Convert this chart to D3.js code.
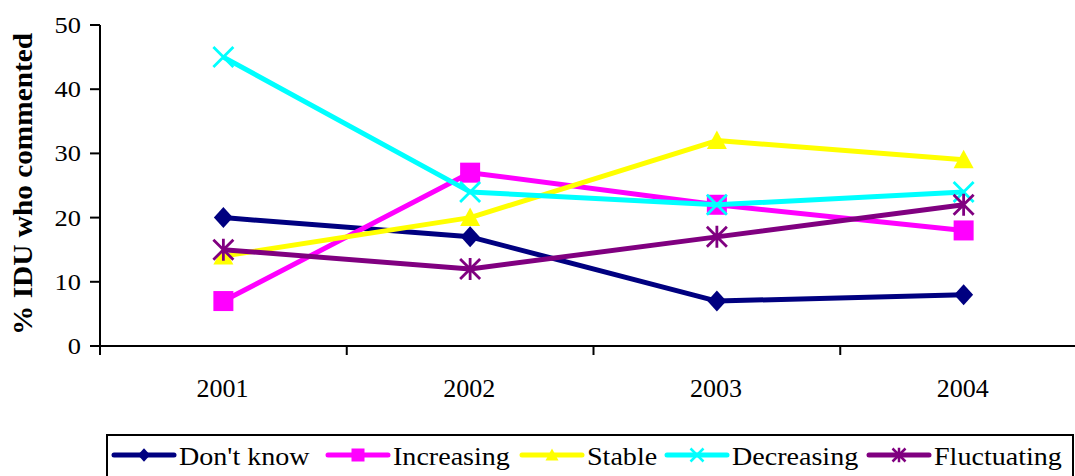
<!DOCTYPE html>
<html><head><meta charset="utf-8">
<script src="https://cdn.jsdelivr.net/npm/d3@7"></script>
<style>body{margin:0;background:#fff}svg{display:block}</style>
</head><body>
<svg id="c" width="1075" height="476"></svg>
<script>
const categories = ["2001","2002","2003","2004"];
const seriesNames = ["Don't know","Increasing","Stable","Decreasing","Fluctuating"];
const dontKnow   = [20, 17, 7, 8];
const increasing = [7, 27, 22, 18];
const stable     = [14, 20, 32, 29];
const decreasing = [45, 24, 22, 24];
const fluctuating= [15, 12, 17, 22];
const yTicks = [0,10,20,30,40,50];
const yTitle = "% IDU who commented";

const FONT = "'Liberation Serif', 'Times New Roman', serif";
const colors = ["#000080","#FF00FF","#FFFF00","#00FFFF","#800080"];
const markers = ["diamond","square","triangle","x","star"];
const values = [dontKnow, increasing, stable, decreasing, fluctuating];

const svg = d3.select("#c");
const x = d3.scaleBand().domain(categories).range([100, 1087]).padding(0);
const y = d3.scaleLinear().domain([0, 50]).range([346, 25]);

// axes
const ax = svg.append("g").attr("stroke","#000").attr("stroke-width",2);
ax.append("line").attr("x1",100).attr("x2",100).attr("y1",y(50)).attr("y2",y(0));
ax.append("line").attr("x1",90).attr("x2",1075).attr("y1",y(0)).attr("y2",y(0));
yTicks.forEach(t=>{
  ax.append("line").attr("x1",90).attr("x2",100).attr("y1",y(t)).attr("y2",y(t));
});
categories.concat(["_end"]).forEach((c,i)=>{
  const xx = i<categories.length ? x(c) : x.range()[1];
  ax.append("line").attr("x1",xx).attr("x2",xx).attr("y1",y(0)).attr("y2",y(0)+9);
});
yTicks.forEach(t=>{
  svg.append("text").attr("transform",`translate(81,${y(t)+8}) scale(1.15,1)`)
    .attr("font-family",FONT).attr("text-anchor","end").attr("font-size",23).text(t);
});
categories.forEach(c=>{
  svg.append("text").attr("transform",`translate(${x(c)+x.bandwidth()/2-1},397)`)
    .attr("font-family",FONT).attr("text-anchor","middle").attr("font-size",26).text(c);
});
svg.append("text").attr("transform","translate(32,184) rotate(-90)")
  .attr("font-family",FONT).attr("text-anchor","middle").attr("font-size",28).attr("font-weight","bold")
  .attr("textLength",302).attr("lengthAdjust","spacingAndGlyphs").text(yTitle);

function drawMarker(g, type, cx, cy, s, color, sw){
  const h = s/2;
  if(type==="diamond"){
    g.append("path").attr("d",`M${cx},${cy-h*1.05}L${cx+h*0.95},${cy}L${cx},${cy+h*1.05}L${cx-h*0.95},${cy}Z`).attr("fill",color);
  } else if(type==="square"){
    g.append("rect").attr("x",cx-h).attr("y",cy-h).attr("width",s).attr("height",s).attr("fill",color);
  } else if(type==="triangle"){
    g.append("path").attr("d",`M${cx},${cy-h}L${cx+h},${cy+h*0.85}L${cx-h},${cy+h*0.85}Z`).attr("fill",color);
  } else if(type==="x"){
    g.append("path").attr("d",`M${cx-h},${cy-h}L${cx+h},${cy+h}M${cx-h},${cy+h}L${cx+h},${cy-h}`)
      .attr("stroke",color).attr("stroke-width",sw).attr("fill","none");
  } else if(type==="star"){
    g.append("path").attr("d",`M${cx-h},${cy-h}L${cx+h},${cy+h}M${cx-h},${cy+h}L${cx+h},${cy-h}M${cx},${cy-h*1.1}L${cx},${cy+h*1.1}`)
      .attr("stroke",color).attr("stroke-width",sw).attr("fill","none");
  }
}

const line = d3.line().x((d,i)=>x(categories[i])+x.bandwidth()/2).y(d=>y(d));
values.forEach((vals,si)=>{
  const g = svg.append("g");
  g.append("path").attr("d",line(vals)).attr("fill","none").attr("stroke",colors[si]).attr("stroke-width",5).attr("stroke-linejoin","round");
  vals.forEach((v,i)=>drawMarker(g, markers[si], x(categories[i])+x.bandwidth()/2, y(v), 20, colors[si], 2.8));
});

// legend
svg.append("rect").attr("x",107).attr("y",435).attr("width",966).attr("height",60)
  .attr("fill","none").attr("stroke","#000").attr("stroke-width",2);
const legStarts = [114, 328, 522, 667, 869];
seriesNames.forEach((n,i)=>{
  const lx = legStarts[i];
  const g = svg.append("g");
  g.append("line").attr("x1",lx).attr("x2",lx+60).attr("y1",455).attr("y2",455)
    .attr("stroke",colors[i]).attr("stroke-width",5).attr("stroke-linecap","round");
  drawMarker(g, markers[i], lx+30, 455, 13, colors[i], 2.5);
  g.append("text").attr("transform",`translate(${lx+65},465) scale(1.08,1)`)
    .attr("font-family",FONT).attr("font-size",26).text(n);
});
</script>
</body></html>
